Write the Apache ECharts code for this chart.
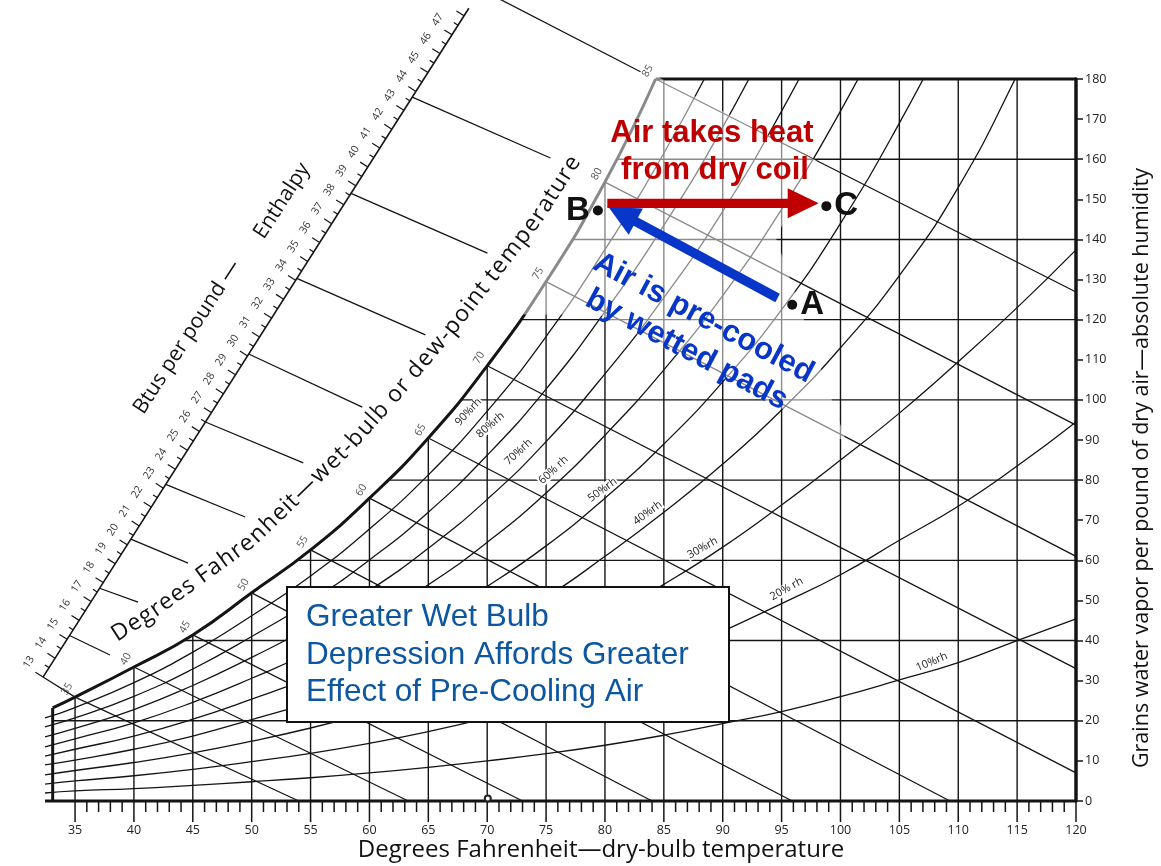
<!DOCTYPE html>
<html>
<head>
<meta charset="utf-8">
<title>Psychrometric chart – evaporative pre-cooling</title>
<script src="https://cdn.jsdelivr.net/npm/echarts@6/dist/echarts.min.js"></script>
<style>
  html, body { margin: 0; padding: 0; background: #fff; }
  #chart { width: 1161px; height: 866px; }
</style>
</head>
<body>
<div id="chart"></div>
<script>
// ---------------- data ----------------
// Saturation curve: dry-bulb temperature (°F) and grains of water vapour per lb of dry air
const SAT_T = [33.1, 35, 40, 45, 50, 55, 60, 65, 70, 75, 80, 84.3];
const SAT_W = [23.2, 25.9, 33.4, 41.4, 51.9, 62.6, 75.5, 90.5, 108.5, 129.5, 154.3, 180];

// Relative-humidity curves, sampled at these dry-bulb temperatures (grains)
const RH_T  = [32.45, 35, 40, 45, 50, 55, 60, 65, 70, 75, 80, 85, 90, 95, 100, 105, 110, 115, 120];
const RH_10 = [2.0, 2.5, 3.1, 3.9, 4.8, 5.8, 7.0, 8.4, 10.0, 11.8, 13.9, 16.4, 19.3, 22.3, 26.0, 30.2, 34.5, 40.0, 45.4];
const RH_20 = [4.2, 5.0, 6.3, 7.9, 9.8, 11.9, 14.4, 17.3, 20.7, 24.7, 29.8, 35.5, 42.3, 49.2, 56.4, 65.0, 73.5, 83.5, 94.5];
const RH_30 = [6.5, 7.6, 9.6, 12.0, 14.9, 18.2, 22.0, 26.3, 31.8, 38.0, 45.5, 54.0, 63.3, 73.8, 85.0, 96.7, 109.5, 123.0, 137.4];
const RH_40 = [9.0, 10.2, 12.9, 16.2, 20.3, 24.6, 29.7, 35.5, 42.5, 50.8, 61.0, 72.0, 84.0, 97.5, 113.0, 131.0, 153.0, 181.0, 212.0];
const RH_50 = [11.2, 12.9, 16.2, 20.4, 25.4, 30.8, 37.2, 44.6, 53.5, 63.6, 75.5, 89.0, 104.5, 122.5, 144.0, 169.0, 197.0];
const RH_60 = [13.5, 15.5, 19.5, 24.6, 30.6, 37.2, 45.0, 53.9, 64.5, 76.8, 91.2, 107.5, 126.0, 147.5, 172.0, 200.0];
const RH_70 = [16.0, 18.1, 22.8, 28.8, 35.8, 43.5, 52.5, 63.0, 75.2, 89.6, 106.5, 125.5, 147.0, 172.0, 200.0];
const RH_80 = [18.5, 20.7, 26.1, 32.9, 41.0, 49.8, 60.1, 72.0, 86.2, 102.7, 122.0, 143.5, 168.0, 196.0];
const RH_90 = [20.7, 23.3, 29.5, 37.1, 46.2, 56.1, 67.8, 81.3, 97.2, 115.8, 137.5, 161.5, 189.0];
const RH_CURVES = [RH_10, RH_20, RH_30, RH_40, RH_50, RH_60, RH_70, RH_80, RH_90];
const RH_NAMES  = ['10%rh', '20% rh', '30%rh', '40%rh', '50%rh', '60% rh', '70%rh', '80%rh', '90%rh'];

// Wet-bulb lines: start on the saturation curve, end on the chart border
const WB_TEMPS   = [35, 40, 45, 50, 55, 60, 65, 70, 75, 80, 85];
const WB_START_T = [35, 40, 45, 50, 55, 60, 65, 70, 75, 80, 84.3];
const WB_START_W = [25.9, 33.4, 41.4, 51.9, 62.6, 75.5, 90.5, 108.5, 129.5, 154.3, 180];
const WB_END_T   = [54.0, 63.3, 73.0, 84.0, 95.9, 109.3, 120, 120, 120, 120, 120];
const WB_END_W   = [0, 0, 0, 0, 0, 0, 7.0, 33.0, 61.0, 93.7, 126.9];

// Enthalpy (Btu/lb) belonging to each wet-bulb line, and where its extension stops
const WB_ENTHALPY  = [13.0, 15.2, 17.7, 20.3, 23.2, 26.5, 30.1, 34.1, 38.6, 43.7, 49.4];
const ENTH_STOP_T  = [35, 37.97, 40.35, 44.6, 49.45, 54.38, 59.39, 64.75, 70.02, 75.37, 83.02];
const ENTH_STOP_W  = [25.9, 36.4, 49.6, 59.3, 70.8, 84.3, 98.2, 116.2, 136.6, 160.3, 181.8];

// Enthalpy scale labels
const ENTH_LABELS = [13, 14, 15, 16, 17, 18, 19, 20, 21, 22, 23, 24, 25, 26, 27, 28, 29, 30,
                     31, 32, 33, 34, 35, 36, 37, 38, 39, 40, 41, 42, 43, 44, 45, 46, 47];

// Grid lines
const DB_LINES = [35, 40, 45, 50, 55, 60, 65, 70, 75, 80, 85, 90, 95, 100, 105, 110, 115];
const GR_LINES = [20, 40, 60, 80, 100, 120, 140, 160];
const DB_TICKS = [];
for (let t = 35; t <= 120; t++) DB_TICKS.push(t);

// Process states
const STATE_NAMES = ['A', 'B', 'C'];
const STATE_T = [95.9, 79.4, 98.8];
const STATE_W = [123.7, 147.2, 148.3];

// Process arrows: [from T, from W, to T, to W]
const ARROWS = [
  [94.66, 125.4, 80.3, 148.1],   // evaporative pre-cooling A -> B
  [80.2, 149.0, 98.15, 149.0]    // sensible heating B -> C
];

// Faded print area near the top of the saturation curve (°F, grains)
const FADE_T = [72.7, 74.9, 79.9, 84.2, 98.0, 94.5, 100.5, 79.5, 72.85];
const FADE_W = [122.0, 130.4, 155.2, 181.0, 159.6, 140.5, 89.5, 121.3, 121.3];

// ---------------- chart geometry helpers ----------------
const X_MIN = 30, X_MAX = 120, Y_MAX = 180;
const LEFT_EDGE_T = 33.1;
const TICK_START_T = 32.45;
// Enthalpy scale: position of 13 Btu/lb and displacement per Btu, in (°F, grains)
const SCALE_T0 = 32.28, SCALE_W0 = 30.9, SCALE_DT = 1.0215, SCALE_DW = 4.71;
function scalePoint(h) {
  return [SCALE_T0 + (h - 13) * SCALE_DT, SCALE_W0 + (h - 13) * SCALE_DW];
}
const INK = '#141414';
const FONT = '"Open Sans", "DejaVu Sans", sans-serif';
const ARIAL = '"Liberation Sans", Arial, sans-serif';
const deg = Math.PI / 180;

function seg(a, b, width, color) {
  return { type: 'line', shape: { x1: a[0], y1: a[1], x2: b[0], y2: b[1] },
           style: { stroke: color || INK, lineWidth: width, lineCap: 'butt' } };
}

function segmentSeries(items, width, z, color) {
  return {
    type: 'custom', z: z, silent: true, clip: false,
    data: items,
    renderItem: function (params, api) {
      const a = api.coord([api.value(0), api.value(1)]);
      const b = api.coord([api.value(2), api.value(3)]);
      return seg(a, b, width, color);
    }
  };
}

const series = [];

// vertical dry-bulb lines and horizontal grain lines (masked above the saturation curve)
series.push(segmentSeries(DB_LINES.map(t => [t, 0, t, Y_MAX]), 1.4, 1));
series.push(segmentSeries(GR_LINES.map(w => [w > SAT_W[0] ? LEFT_EDGE_T + 0.4 : LEFT_EDGE_T, w, X_MAX, w]), 1.4, 1));

// relative humidity curves
RH_CURVES.forEach(function (vals, k) {
  series.push({
    type: 'line', name: RH_NAMES[k], z: 2, silent: true, clip: true,
    smooth: true, symbol: 'none',
    lineStyle: { color: INK, width: 1.3 },
    data: vals.map((w, i) => [RH_T[i], w])
  });
});

// saturation curve, with white area above it
series.push({
  type: 'line', name: 'saturation', z: 3, silent: true, clip: true,
  smooth: true, symbol: 'none',
  lineStyle: { color: INK, width: 3 },
  areaStyle: { color: '#ffffff', opacity: 1, origin: 'end' },
  data: SAT_T.map((t, i) => [t, SAT_W[i]])
});

// wet-bulb lines
series.push(segmentSeries(WB_TEMPS.map((_, i) => [WB_START_T[i], WB_START_W[i], WB_END_T[i], WB_END_W[i]]), 1.3, 4));

// enthalpy extensions out to the enthalpy scale
series.push(segmentSeries(WB_ENTHALPY.map((h, i) => {
  const p = scalePoint(h);
  return [p[0], p[1], ENTH_STOP_T[i], ENTH_STOP_W[i]];
}), 1.3, 4));

// enthalpy scale: baseline, ticks every 0.5 Btu, labels every Btu
const scaleTicks = [];
for (let h = 13; h <= 48.01; h += 0.5) scaleTicks.push([h, 0]);
series.push({
  type: 'custom', z: 4, silent: true, clip: false,
  data: scaleTicks,
  renderItem: function (params, api) {
    const h = api.value(0);
    const a = api.coord(scalePoint(h));
    const b = api.coord(scalePoint(h + 1));
    const L = Math.hypot(b[0] - a[0], b[1] - a[1]);
    const ux = (b[0] - a[0]) / L, uy = (b[1] - a[1]) / L;
    const nx = uy, ny = -ux;
    const major = Math.abs(h - Math.round(h)) < 1e-6;
    const len = major ? 9 : 5;
    const children = [seg(a, [a[0] + nx * len, a[1] + ny * len], 1.2)];
    if (params.dataIndex === 0) {
      const top = api.coord(scalePoint(48.4));
      children.push(seg(a, top, 1.6));
    }
    if (major && ENTH_LABELS.indexOf(Math.round(h)) >= 0) {
      children.push({
        type: 'text',
        x: a[0] + nx * 20 + ux * 5, y: a[1] + ny * 20 + uy * 5,
        rotation: Math.atan2(-uy, ux),
        style: { text: String(Math.round(h)), fill: '#333', fontSize: 10.5, fontFamily: FONT,
                 align: 'center', verticalAlign: 'middle' }
      });
    }
    return { type: 'group', children: children };
  }
});

// frame: bottom line, left edge, top line, and the dry-bulb ticks
series.push(segmentSeries([
  [TICK_START_T, 0, X_MAX, 0],
  [LEFT_EDGE_T, 0, LEFT_EDGE_T, SAT_W[0]],
  [SAT_T[SAT_T.length - 1], Y_MAX, X_MAX, Y_MAX]
], 3, 4));
series.push({
  type: 'custom', z: 4, silent: true, clip: false,
  data: DB_TICKS.map(t => [t, 0]),
  renderItem: function (params, api) {
    const t = api.value(0);
    const p = api.coord([t, 0]);
    const len = t % 5 === 0 ? 21 : 11;
    return seg([p[0], p[1]], [p[0], p[1] + len], 1.5);
  }
});

// wet-bulb temperature labels on the saturation curve
series.push({
  type: 'custom', z: 5, silent: true, clip: false,
  data: WB_TEMPS.map((t, i) => [WB_START_T[i], WB_START_W[i]]),
  renderItem: function (params, api) {
    const p = api.coord([api.value(0), api.value(1)]);
    return {
      type: 'text', x: p[0] - 8, y: p[1] - 8, rotation: 60 * deg,
      style: { text: String(WB_TEMPS[params.dataIndex]), fill: '#555', fontSize: 10.5,
               fontFamily: FONT, align: 'center', verticalAlign: 'middle' }
    };
  }
});

// relative humidity labels
const RH_LABEL_T = [107.75, 95.43, 88.29, 83.62, 79.79, 75.63, 72.65, 70.27, 68.40];
const RH_LABEL_W = [34.66, 52.86, 63.08, 71.80, 77.54, 82.52, 87.01, 93.74, 96.98];
const RH_LABEL_ANGLE = [23, 29, 29, 36, 36, 43, 43, 41, 47];
series.push({
  type: 'custom', z: 5, silent: true, clip: false,
  data: RH_LABEL_T.map((t, i) => [t, RH_LABEL_W[i]]),
  renderItem: function (params, api) {
    const p = api.coord([api.value(0), api.value(1)]);
    const i = params.dataIndex;
    return {
      type: 'text', x: p[0], y: p[1], rotation: RH_LABEL_ANGLE[i] * deg,
      style: { text: RH_NAMES[i], fill: '#222', fontSize: 11, fontFamily: FONT,
               align: 'center', verticalAlign: 'middle',
               backgroundColor: '#fff', padding: [0, 1] }
    };
  }
});

// faded print near the upper saturation curve
series.push({
  type: 'custom', z: 6, silent: true, clip: false,
  data: [[FADE_T[0], FADE_W[0]]],
  renderItem: function (params, api) {
    const pts = FADE_T.map((t, i) => api.coord([t, FADE_W[i]]));
    return { type: 'polygon', shape: { points: pts },
             style: { fill: 'rgba(255,255,255,0.5)' } };
  }
});

// process arrows
const ARROW_COLORS = ['#0836c8', '#c00000'];
series.push({
  type: 'custom', z: 9, silent: true, clip: false,
  data: ARROWS,
  renderItem: function (params, api) {
    const p1 = api.coord([api.value(0), api.value(1)]);
    const p2 = api.coord([api.value(2), api.value(3)]);
    const dx = p2[0] - p1[0], dy = p2[1] - p1[1], L = Math.hypot(dx, dy);
    const ux = dx / L, uy = dy / L, nx = -uy, ny = ux;
    const head = 31, half = 15, shaft = 4.7;
    const bx = p2[0] - ux * head, by = p2[1] - uy * head;
    return {
      type: 'polygon',
      shape: { points: [
        [p1[0] + nx * shaft, p1[1] + ny * shaft],
        [bx + nx * shaft, by + ny * shaft],
        [bx + nx * half, by + ny * half],
        [p2[0], p2[1]],
        [bx - nx * half, by - ny * half],
        [bx - nx * shaft, by - ny * shaft],
        [p1[0] - nx * shaft, p1[1] - ny * shaft]
      ] },
      style: { fill: ARROW_COLORS[params.dataIndex] }
    };
  }
});

// process states A, B, C
series.push({
  type: 'scatter', z: 10, silent: true, clip: false,
  symbol: 'circle', symbolSize: 10,
  itemStyle: { color: '#111', opacity: 1 },
  data: STATE_T.map((t, i) => ({
    value: [t, STATE_W[i]],
    label: {
      show: true, formatter: STATE_NAMES[i],
      position: i === 1 ? 'left' : 'right', distance: 3,
      color: '#111', fontSize: 33, fontWeight: 'bold', fontFamily: ARIAL, opacity: 1
    }
  }))
});

// small mark on the dry-bulb base line
series.push({
  type: 'scatter', z: 6, silent: true, clip: false,
  symbol: 'emptyCircle', symbolSize: 6,
  itemStyle: { color: '#222', borderWidth: 1.5, opacity: 1 },
  data: [[70.05, 0.6]]
});

// ---------------- texts ----------------
function txt(x, y, text, opts) {
  return Object.assign({
    type: 'text', x: x, y: y, z: 100, silent: true,
    style: Object.assign({ text: text, fill: '#111', fontFamily: FONT, fontSize: 20,
                           align: 'center', verticalAlign: 'middle' }, opts.style || {})
  }, opts.el || {});
}

// lay a string out character by character along a polyline (pixel path)
function textAlongPath(str, path, length, fontSize, fill) {
  const ctx = document.createElement('canvas').getContext('2d');
  ctx.font = fontSize + 'px "Open Sans"';
  const chars = Array.from(str);
  const widths = chars.map(ch => ctx.measureText(ch).width);
  const total = widths.reduce((a, b) => a + b, 0);
  const k = length / total;
  const cum = [0];
  for (let i = 1; i < path.length; i++) {
    cum.push(cum[i - 1] + Math.hypot(path[i][0] - path[i - 1][0], path[i][1] - path[i - 1][1]));
  }
  function at(s) {
    let i = 1;
    while (i < path.length - 1 && cum[i] < s) i++;
    const a = path[i - 1], b = path[i];
    const f = (s - cum[i - 1]) / (cum[i] - cum[i - 1]);
    return [a[0] + (b[0] - a[0]) * f, a[1] + (b[1] - a[1]) * f];
  }
  const out = [];
  let s = 0;
  chars.forEach(function (ch, i) {
    const w = widths[i] * k;
    const mid = s + w / 2;
    const p = at(mid), p0 = at(mid - 10), p1 = at(mid + 10);
    out.push({
      type: 'text', x: p[0], y: p[1], z: 100, silent: true,
      rotation: Math.atan2(-(p1[1] - p0[1]), p1[0] - p0[0]),
      style: { text: ch, fill: fill, fontSize: fontSize, fontFamily: FONT,
               align: 'center', verticalAlign: 'middle' }
    });
    s += w;
  });
  return out;
}

const WB_TITLE_PATH = [[113, 637], [155, 610], [252, 540], [349, 446], [393, 397], [450, 330], [537, 218], [600, 120]];

const graphics = [
  // axis titles
  txt(601, 850, 'Degrees Fahrenheit\u2014dry-bulb temperature', { style: { fontSize: 24 } }),
  txt(1142, 468, 'Grains water vapor per pound of dry air\u2014absolute humidity',
      { style: { fontSize: 21.5 }, el: { rotation: 90 * deg } }),
  // enthalpy scale title
  txt(187, 337, 'Btus per pound \u2014', { style: { fontSize: 21 }, el: { rotation: 57 * deg } }),
  txt(282, 201, 'Enthalpy', { style: { fontSize: 21 }, el: { rotation: 57 * deg } }),
  // process annotations
  txt(712, 133, 'Air takes heat', { style: { fontSize: 31, fontWeight: 'bold', fill: '#c00000', fontFamily: ARIAL } }),
  txt(715, 170, 'from dry coil', { style: { fontSize: 31, fontWeight: 'bold', fill: '#c00000', fontFamily: ARIAL } }),
  {
    type: 'group', x: 695, y: 334, rotation: -28 * deg, z: 100, silent: true,
    children: [
      { type: 'text', x: 0, y: -18, z: 100,
        style: { text: 'Air is pre-cooled', fill: '#0836c8', fontSize: 31, fontWeight: 'bold',
                 fontFamily: ARIAL, align: 'center', verticalAlign: 'middle' } },
      { type: 'text', x: 0, y: 18, z: 100,
        style: { text: 'by wetted pads', fill: '#0836c8', fontSize: 31, fontWeight: 'bold',
                 fontFamily: ARIAL, align: 'center', verticalAlign: 'middle' } }
    ]
  },
  // note box
  {
    type: 'rect', z: 100, silent: true,
    shape: { x: 287, y: 587, width: 442, height: 135 },
    style: { fill: '#fff', stroke: '#111', lineWidth: 2 }
  },
  txt(306, 617, 'Greater Wet Bulb', { style: { fontSize: 31.5, fill: '#0d56a0', fontFamily: ARIAL, align: 'left' } }),
  txt(306, 655, 'Depression Affords Greater', { style: { fontSize: 31.5, fill: '#0d56a0', fontFamily: ARIAL, align: 'left' } }),
  txt(306, 692, 'Effect of Pre-Cooling Air', { style: { fontSize: 31.5, fill: '#0d56a0', fontFamily: ARIAL, align: 'left' } })
].concat(textAlongPath('Degrees Fahrenheit\u2014wet-bulb or dew-point temperature',
                       WB_TITLE_PATH, 672, 23, '#111'));

// ---------------- chart ----------------
const chart = echarts.init(document.getElementById('chart'), null, { renderer: 'canvas' });
chart.setOption({
  animation: false,
  backgroundColor: '#fff',
  grid: { left: 16.17, right: 85, top: 79, bottom: 65, containLabel: false },
  xAxis: {
    type: 'value', min: X_MIN, max: X_MAX, interval: 5,
    axisLine: { show: false }, axisTick: { show: false }, splitLine: { show: false },
    axisLabel: {
      margin: 23, fontSize: 12.5, color: '#222', fontFamily: FONT,
      formatter: v => (v < 35 ? '' : String(v))
    }
  },
  yAxis: {
    type: 'value', position: 'right', min: 0, max: Y_MAX, interval: 10,
    axisLine: { show: true, lineStyle: { color: INK, width: 3.5 } },
    axisTick: { show: true, length: 7, lineStyle: { color: INK, width: 1.5 } },
    axisLabel: { margin: 9, fontSize: 12.5, color: '#222', fontFamily: FONT },
    splitLine: { show: false }
  },
  series: series,
  graphic: graphics
});
</script>
</body>
</html>
